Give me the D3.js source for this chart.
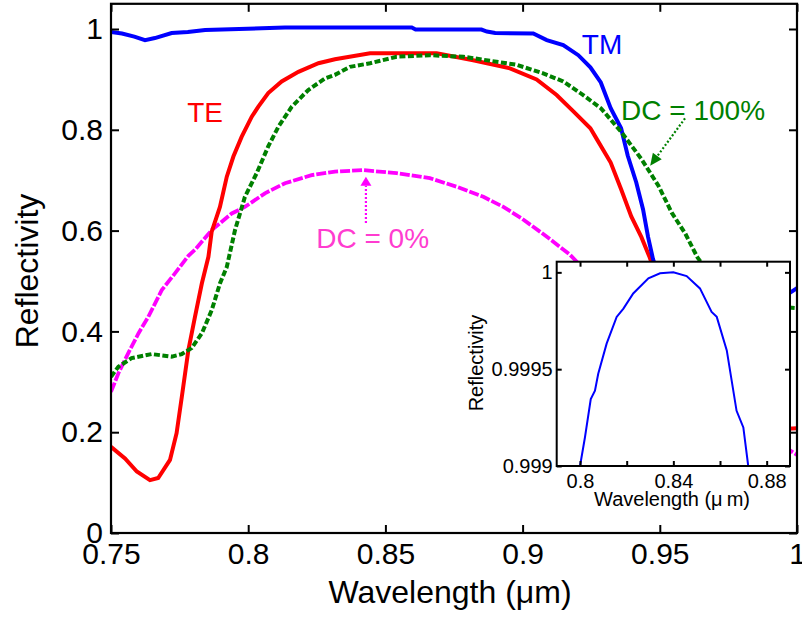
<!DOCTYPE html>
<html>
<head>
<meta charset="utf-8">
<script src="https://cdn.jsdelivr.net/npm/d3@7"></script>
<style>
body { margin: 0; background: #fff; }
text { font-family: "Liberation Sans", Arial, sans-serif; }
</style>
</head>
<body>
<div id="chart"></div>
<script>
// wavelength (um), reflectivity
var tmData = [[0.7500,0.994],[0.7540,0.991],[0.7585,0.985],[0.7624,0.978],[0.7660,0.982],[0.7721,0.992],
    [0.7780,0.994],[0.7843,0.998],[0.8134,1.003],[0.8596,1.003],[0.8610,0.999],[0.8850,0.999],[0.8870,0.995],
    [0.8900,0.992],[0.9039,0.991],[0.9088,0.978],[0.9148,0.968],[0.9203,0.948],[0.9247,0.924],[0.9285,0.894],
    [0.9321,0.843],[0.9359,0.803],[0.9383,0.749],[0.9414,0.696],[0.9439,0.642],[0.9457,0.588],[0.9475,0.544],
    [0.9520,0.470],[0.9600,0.410],[0.9700,0.390],[0.9800,0.410],[0.9900,0.450],[1.0000,0.486]];

var teData = [[0.7500,0.171],[0.7551,0.148],[0.7594,0.122],[0.7642,0.105],[0.7672,0.109],[0.7715,0.145],
    [0.7739,0.198],[0.7758,0.270],[0.7782,0.363],[0.7806,0.429],[0.7831,0.495],[0.7855,0.548],[0.7867,0.598],
    [0.7897,0.647],[0.7922,0.707],[0.7946,0.747],[0.7976,0.786],[0.8013,0.826],[0.8037,0.846],[0.8073,0.873],
    [0.8122,0.896],[0.8183,0.915],[0.8256,0.932],[0.8316,0.940],[0.8444,0.952],[0.8687,0.952],[0.8820,0.938],
    [0.8954,0.922],[0.9051,0.900],[0.9124,0.869],[0.9186,0.836],[0.9247,0.803],[0.9272,0.780],[0.9321,0.735],
    [0.9359,0.682],[0.9396,0.628],[0.9433,0.587],[0.9463,0.547],[0.9520,0.460],[0.9600,0.370],[0.9700,0.280],
    [0.9800,0.225],[0.9900,0.205],[1.0000,0.208]];

var dc100Data = [[0.7500,0.310],[0.7527,0.330],[0.7575,0.347],[0.7648,0.355],[0.7721,0.350],[0.7758,0.355],
    [0.7794,0.367],[0.7831,0.396],[0.7867,0.442],[0.7897,0.495],[0.7922,0.528],[0.7952,0.601],[0.7988,0.667],
    [0.8031,0.714],[0.8073,0.767],[0.8110,0.806],[0.8159,0.846],[0.8219,0.879],[0.8280,0.902],[0.8316,0.909],
    [0.8371,0.925],[0.8444,0.932],[0.8541,0.945],[0.8662,0.948],[0.8784,0.945],[0.8881,0.937],[0.8978,0.929],
    [0.9075,0.912],[0.9148,0.896],[0.9210,0.873],[0.9285,0.843],[0.9359,0.796],[0.9433,0.742],[0.9495,0.689],
    [0.9544,0.635],[0.9593,0.594],[0.9637,0.547],[0.9700,0.500],[0.9800,0.465],[0.9900,0.450],[1.0000,0.446]];

var dc0Data = [[0.7500,0.280],[0.7527,0.317],[0.7563,0.357],[0.7600,0.396],[0.7636,0.429],[0.7685,0.482],
    [0.7733,0.515],[0.7782,0.550],[0.7806,0.562],[0.7867,0.601],[0.7940,0.634],[0.7988,0.647],[0.8061,0.674],
    [0.8134,0.694],[0.8231,0.710],[0.8316,0.717],[0.8419,0.720],[0.8541,0.714],[0.8662,0.704],[0.8760,0.687],
    [0.8857,0.667],[0.8930,0.647],[0.8997,0.624],[0.9063,0.598],[0.9112,0.578],[0.9173,0.552],[0.9300,0.480],
    [0.9500,0.380],[0.9700,0.280],[0.9900,0.190],[1.0000,0.155]];

// inset: TM zoomed near the peak
var insetData = [[0.8000,0.999000],[0.8021,0.999147],[0.8046,0.999346],[0.8064,0.999389],[0.8078,0.999476],
    [0.8114,0.999632],[0.8157,0.999770],[0.8186,0.999813],[0.8228,0.999891],[0.8293,0.999969],[0.8343,0.999995],
    [0.8400,1.000000],[0.8457,0.999981],[0.8514,0.999917],[0.8564,0.999796],[0.8586,0.999770],[0.8629,0.999597],
    [0.8671,0.999285],[0.8700,0.999199],[0.8721,0.999000]];

var xTicks = [0.75, 0.8, 0.85, 0.9, 0.95, 1];
var yTicks = [0, 0.2, 0.4, 0.6, 0.8, 1];
var insetXTicks = [0.8, 0.82, 0.84, 0.86, 0.88];
var insetXLabels = [0.8, 0.84, 0.88];
var insetYTicks = [0.999, 0.9995, 1];

function init() {
    var w = 802;
    var h = 617;

    var svg = d3.select("#chart")
        .append("svg")
        .attr("width", w)
        .attr("height", h);

    var left = 111, right = 797, top = 3.8, bottom = 533;

    var xScale = d3.scaleLinear().domain([0.75, 1]).range([left, right]);
    var yScale = d3.scaleLinear().domain([0, 1.05]).range([bottom, top]);
    var fmt = d3.format("~g");

    svg.append("clipPath").attr("id", "clip")
        .append("rect")
        .attr("x", left).attr("y", top)
        .attr("width", right - left).attr("height", bottom - top);

    var line = d3.line()
        .x(function(d) { return xScale(d[0]); })
        .y(function(d) { return yScale(d[1]); });

    var curves = svg.append("g").attr("clip-path", "url(#clip)");

    curves.append("path").datum(dc0Data)
        .attr("d", line).attr("fill", "none")
        .attr("stroke", "#ff00ff").attr("stroke-width", 3.8)
        .attr("stroke-dasharray", "10,2");

    curves.append("path").datum(teData)
        .attr("d", line).attr("fill", "none")
        .attr("stroke", "#ff0000").attr("stroke-width", 4);

    curves.append("path").datum(tmData)
        .attr("d", line).attr("fill", "none")
        .attr("stroke", "#0000ff").attr("stroke-width", 4);

    curves.append("path").datum(dc100Data)
        .attr("d", line).attr("fill", "none")
        .attr("stroke", "#008000").attr("stroke-width", 4)
        .attr("stroke-dasharray", "6,2.5");

    // axes with inward ticks
    var xAxis = d3.axisBottom(xScale).tickValues(xTicks).tickFormat(fmt)
        .tickSizeInner(-8).tickSizeOuter(0).tickPadding(10);
    var gx = svg.append("g").attr("transform", "translate(0," + bottom + ")").call(xAxis);

    var yAxis = d3.axisLeft(yScale).tickValues(yTicks).tickFormat(fmt)
        .tickSizeInner(-8).tickSizeOuter(0).tickPadding(8);
    var gy = svg.append("g").attr("transform", "translate(" + left + ",0)").call(yAxis);

    var gxt = svg.append("g").attr("transform", "translate(0," + top + ")")
        .call(d3.axisTop(xScale).tickValues(xTicks).tickFormat("").tickSizeInner(-8).tickSizeOuter(0));
    var gyr = svg.append("g").attr("transform", "translate(" + right + ",0)")
        .call(d3.axisRight(yScale).tickValues(yTicks).tickFormat("").tickSizeInner(-8).tickSizeOuter(0));

    [gx, gy, gxt, gyr].forEach(function(g) {
        g.select(".domain").remove();
        g.selectAll(".tick line").attr("stroke", "#000").attr("stroke-width", 2);
        g.selectAll(".tick text").attr("font-size", "30px").attr("fill", "#000")
            .attr("font-family", "'Liberation Sans', Arial, sans-serif");
    });

    svg.append("rect")
        .attr("x", left).attr("y", top)
        .attr("width", right - left).attr("height", bottom - top)
        .attr("fill", "none").attr("stroke", "#000").attr("stroke-width", 2.2);

    svg.append("text")
        .attr("text-anchor", "middle")
        .attr("x", 450).attr("y", 603)
        .attr("font-size", "32px")
        .text("Wavelength (\u03bcm)");

    svg.append("text")
        .attr("text-anchor", "middle")
        .attr("transform", "translate(38,271) rotate(-90)")
        .attr("font-size", "32px")
        .text("Reflectivity");

    // curve labels
    svg.append("text").attr("x", xScale(0.7843)).attr("y", yScale(0.815))
        .attr("text-anchor", "middle").attr("font-size", "28px").attr("fill", "#ff0000").text("TE");
    svg.append("text").attr("x", xScale(0.9216)).attr("y", yScale(0.95))
        .attr("font-size", "28px").attr("fill", "#0000ff").text("TM");
    svg.append("text").attr("x", xScale(0.9359)).attr("y", yScale(0.819))
        .attr("font-size", "28px").attr("fill", "#008000").text("DC = 100%");
    svg.append("text").attr("x", xScale(0.8248)).attr("y", yScale(0.565))
        .attr("font-size", "28px").attr("fill", "#ff3cd0").text("DC = 0%");

    function arrow(x0, y0, x1, y1, color, len, half) {
        var sx = xScale(x0), sy = yScale(y0), tx = xScale(x1), ty = yScale(y1);
        var dx = tx - sx, dy = ty - sy, d = Math.sqrt(dx * dx + dy * dy);
        var ux = dx / d, uy = dy / d;
        var bx = tx - ux * len, by = ty - uy * len;
        svg.append("line")
            .attr("x1", sx).attr("y1", sy).attr("x2", bx).attr("y2", by)
            .attr("stroke", color).attr("stroke-width", 2.2).attr("stroke-dasharray", "2,2");
        svg.append("path")
            .attr("d", "M" + tx + "," + ty +
                "L" + (bx - uy * half) + "," + (by + ux * half) +
                "L" + (bx + uy * half) + "," + (by - ux * half) + "Z")
            .attr("fill", color);
    }
    arrow(0.9592, 0.8228, 0.9465, 0.7286, "#008000", 12, 5.5);
    arrow(0.8429, 0.615, 0.8429, 0.707, "#ff00ff", 9, 5.5);

    // inset
    var iL = 556.7, iR = 790, iT = 261.7, iB = 466;
    var ix = d3.scaleLinear().domain([0.79, 0.89]).range([iL, iR]);
    var iy = d3.scaleLinear().domain([0.999, 1.000055]).range([iB, iT]);

    svg.append("rect")
        .attr("x", iL).attr("y", iT).attr("width", iR - iL).attr("height", iB - iT)
        .attr("fill", "#fff");

    var iline = d3.line()
        .x(function(d) { return ix(d[0]); })
        .y(function(d) { return iy(d[1]); });

    svg.append("path").datum(insetData)
        .attr("d", iline).attr("fill", "none")
        .attr("stroke", "#0000ff").attr("stroke-width", 2);

    var ixFmt = function(d) { return insetXLabels.indexOf(d) >= 0 ? fmt(d) : ""; };
    var ga = svg.append("g").attr("transform", "translate(0," + iB + ")")
        .call(d3.axisBottom(ix).tickValues(insetXTicks).tickFormat(ixFmt)
            .tickSizeInner(-5).tickSizeOuter(0).tickPadding(8));
    var gb = svg.append("g").attr("transform", "translate(" + iL + ",0)")
        .call(d3.axisLeft(iy).tickValues(insetYTicks).tickFormat(fmt)
            .tickSizeInner(-5).tickSizeOuter(0).tickPadding(4));
    var gc = svg.append("g").attr("transform", "translate(0," + iT + ")")
        .call(d3.axisTop(ix).tickValues(insetXTicks).tickFormat("").tickSizeInner(-5).tickSizeOuter(0));
    var gd = svg.append("g").attr("transform", "translate(" + iR + ",0)")
        .call(d3.axisRight(iy).tickValues(insetYTicks).tickFormat("").tickSizeInner(-5).tickSizeOuter(0));

    [ga, gb, gc, gd].forEach(function(g) {
        g.select(".domain").remove();
        g.selectAll(".tick line").attr("stroke", "#000").attr("stroke-width", 2);
        g.selectAll(".tick text").attr("font-size", "20px").attr("fill", "#000")
            .attr("font-family", "'Liberation Sans', Arial, sans-serif");
    });

    svg.append("rect")
        .attr("x", iL).attr("y", iT).attr("width", iR - iL).attr("height", iB - iT)
        .attr("fill", "none").attr("stroke", "#000").attr("stroke-width", 2);

    svg.append("text")
        .attr("text-anchor", "middle")
        .attr("x", 672).attr("y", 506)
        .attr("font-size", "20px")
        .text("Wavelength (\u03bc\u2009m)");

    svg.append("text")
        .attr("text-anchor", "middle")
        .attr("transform", "translate(483,363) rotate(-90)")
        .attr("font-size", "20px")
        .text("Reflectivity");
}
window.onload = init;
</script>
</body>
</html>
